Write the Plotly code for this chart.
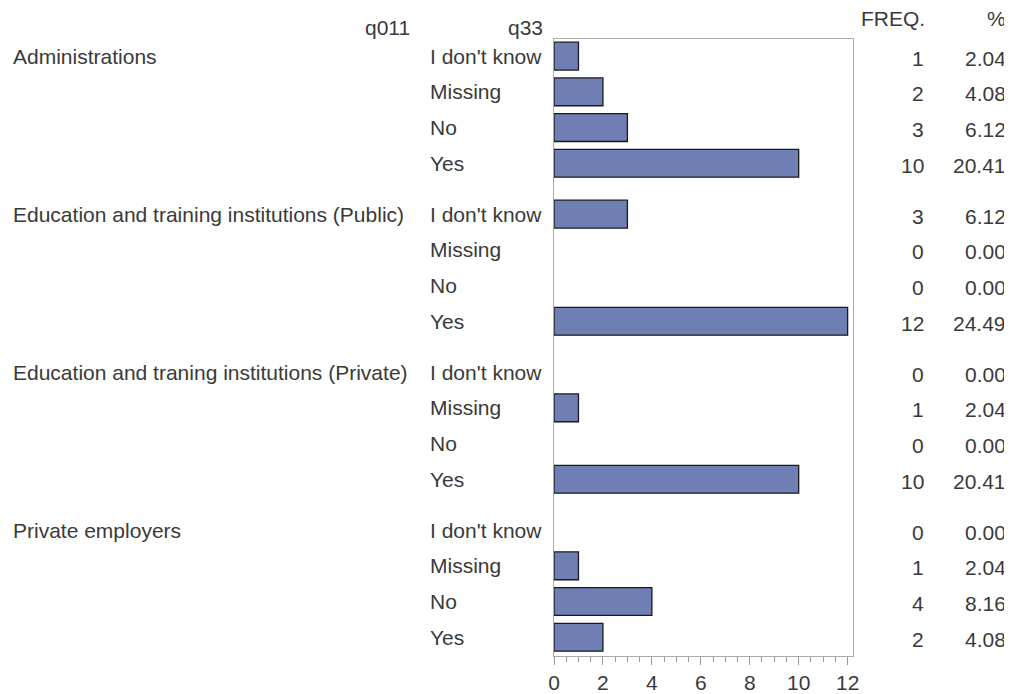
import plotly.graph_objects as go

# ---- data ----
q011_groups = [
    "Administrations",
    "Education and training institutions (Public)",
    "Education and traning institutions (Private)",
    "Private employers",
]
q33_levels = ["I don't know", "Missing", "No", "Yes"]
freq_admin = [1, 2, 3, 10]
freq_edu_public = [3, 0, 0, 12]
freq_edu_private = [0, 1, 0, 10]
freq_private_emp = [0, 1, 4, 2]
pct_admin = ["2.04", "4.08", "6.12", "20.41"]
pct_edu_public = ["6.12", "0.00", "0.00", "24.49"]
pct_edu_private = ["0.00", "2.04", "0.00", "20.41"]
pct_private_emp = ["0.00", "2.04", "8.16", "4.08"]
x_ticks = [0, 2, 4, 6, 8, 10, 12]

freqs = [freq_admin, freq_edu_public, freq_edu_private, freq_private_emp]
pcts = [pct_admin, pct_edu_public, pct_edu_private, pct_private_emp]

# ---- layout geometry (page body has an 8px margin) ----
OFF = 8
W, H = 1012 - OFF, 694 - OFF
L, R, T, B = 554 - OFF, 159, 39 - OFF, 38
GROUP_GAP = 0.425
FONT = "Liberation Sans, Arial, sans-serif"
TXT = "#3a3a3a"
FS = 21

def px_to_paper_x(px):
    return (px - OFF - L) / (W - L - R)

def px_to_paper_y(py):
    return (H - B - (py - OFF)) / (H - T - B)

ypos, xvals = [], []
for g, fr in enumerate(freqs):
    for i, v in enumerate(fr):
        y = g * (4 + GROUP_GAP) + i
        if v > 0:
            ypos.append(y)
            xvals.append(v)

fig = go.Figure()
fig.add_trace(go.Bar(
    x=xvals, y=ypos, orientation="h", width=0.78,
    marker=dict(color="#6F7EB3", line=dict(color="#1a1a1a", width=1.3)),
    hoverinfo="x",
))

ann = []
def add(text, x, y, xanchor, yref="y"):
    ann.append(dict(text=text, x=x, y=y, xref="paper", yref=yref,
                    xanchor=xanchor, yanchor="middle", showarrow=False,
                    font=dict(family=FONT, size=FS, color=TXT)))

for g, grp in enumerate(q011_groups):
    for i, lev in enumerate(q33_levels):
        y = g * (4 + GROUP_GAP) + i
        if i == 0:
            add(grp, px_to_paper_x(11), y, "left")
        add(lev, px_to_paper_x(428), y, "left")
        add(str(freqs[g][i]), px_to_paper_x(926), y + 0.06, "right")
        add(pcts[g][i], px_to_paper_x(1008), y + 0.06, "right")

add("q011", px_to_paper_x(412), px_to_paper_y(27), "right", "paper")
add("q33", px_to_paper_x(545), px_to_paper_y(27), "right", "paper")
add("FREQ.", px_to_paper_x(927), px_to_paper_y(18), "right", "paper")
add("%", px_to_paper_x(1008), px_to_paper_y(18), "right", "paper")

fig.update_layout(
    width=W, height=H, autosize=False,
    margin=dict(l=L, r=R, t=T, b=B, pad=0),
    plot_bgcolor="white", paper_bgcolor="white",
    showlegend=False,
    annotations=ann,
    xaxis=dict(range=[0, 12.22], tickvals=x_ticks, ticks="outside", ticklen=8,
               tickcolor="#999999", tickwidth=1, automargin=False,
               minor=dict(dtick=0.5, ticks="outside", ticklen=5, tickcolor="#999999", showgrid=False),
               showline=True, linecolor="#AAAAAA", linewidth=1, mirror=True,
               showgrid=False, zeroline=False,
               tickfont=dict(family=FONT, size=FS, color=TXT)),
    yaxis=dict(range=[16.8, -0.48], showticklabels=False, ticks="", automargin=False,
               showline=True, linecolor="#AAAAAA", linewidth=1, mirror=True,
               showgrid=False, zeroline=False),
)

fig.write_html("out.html")
